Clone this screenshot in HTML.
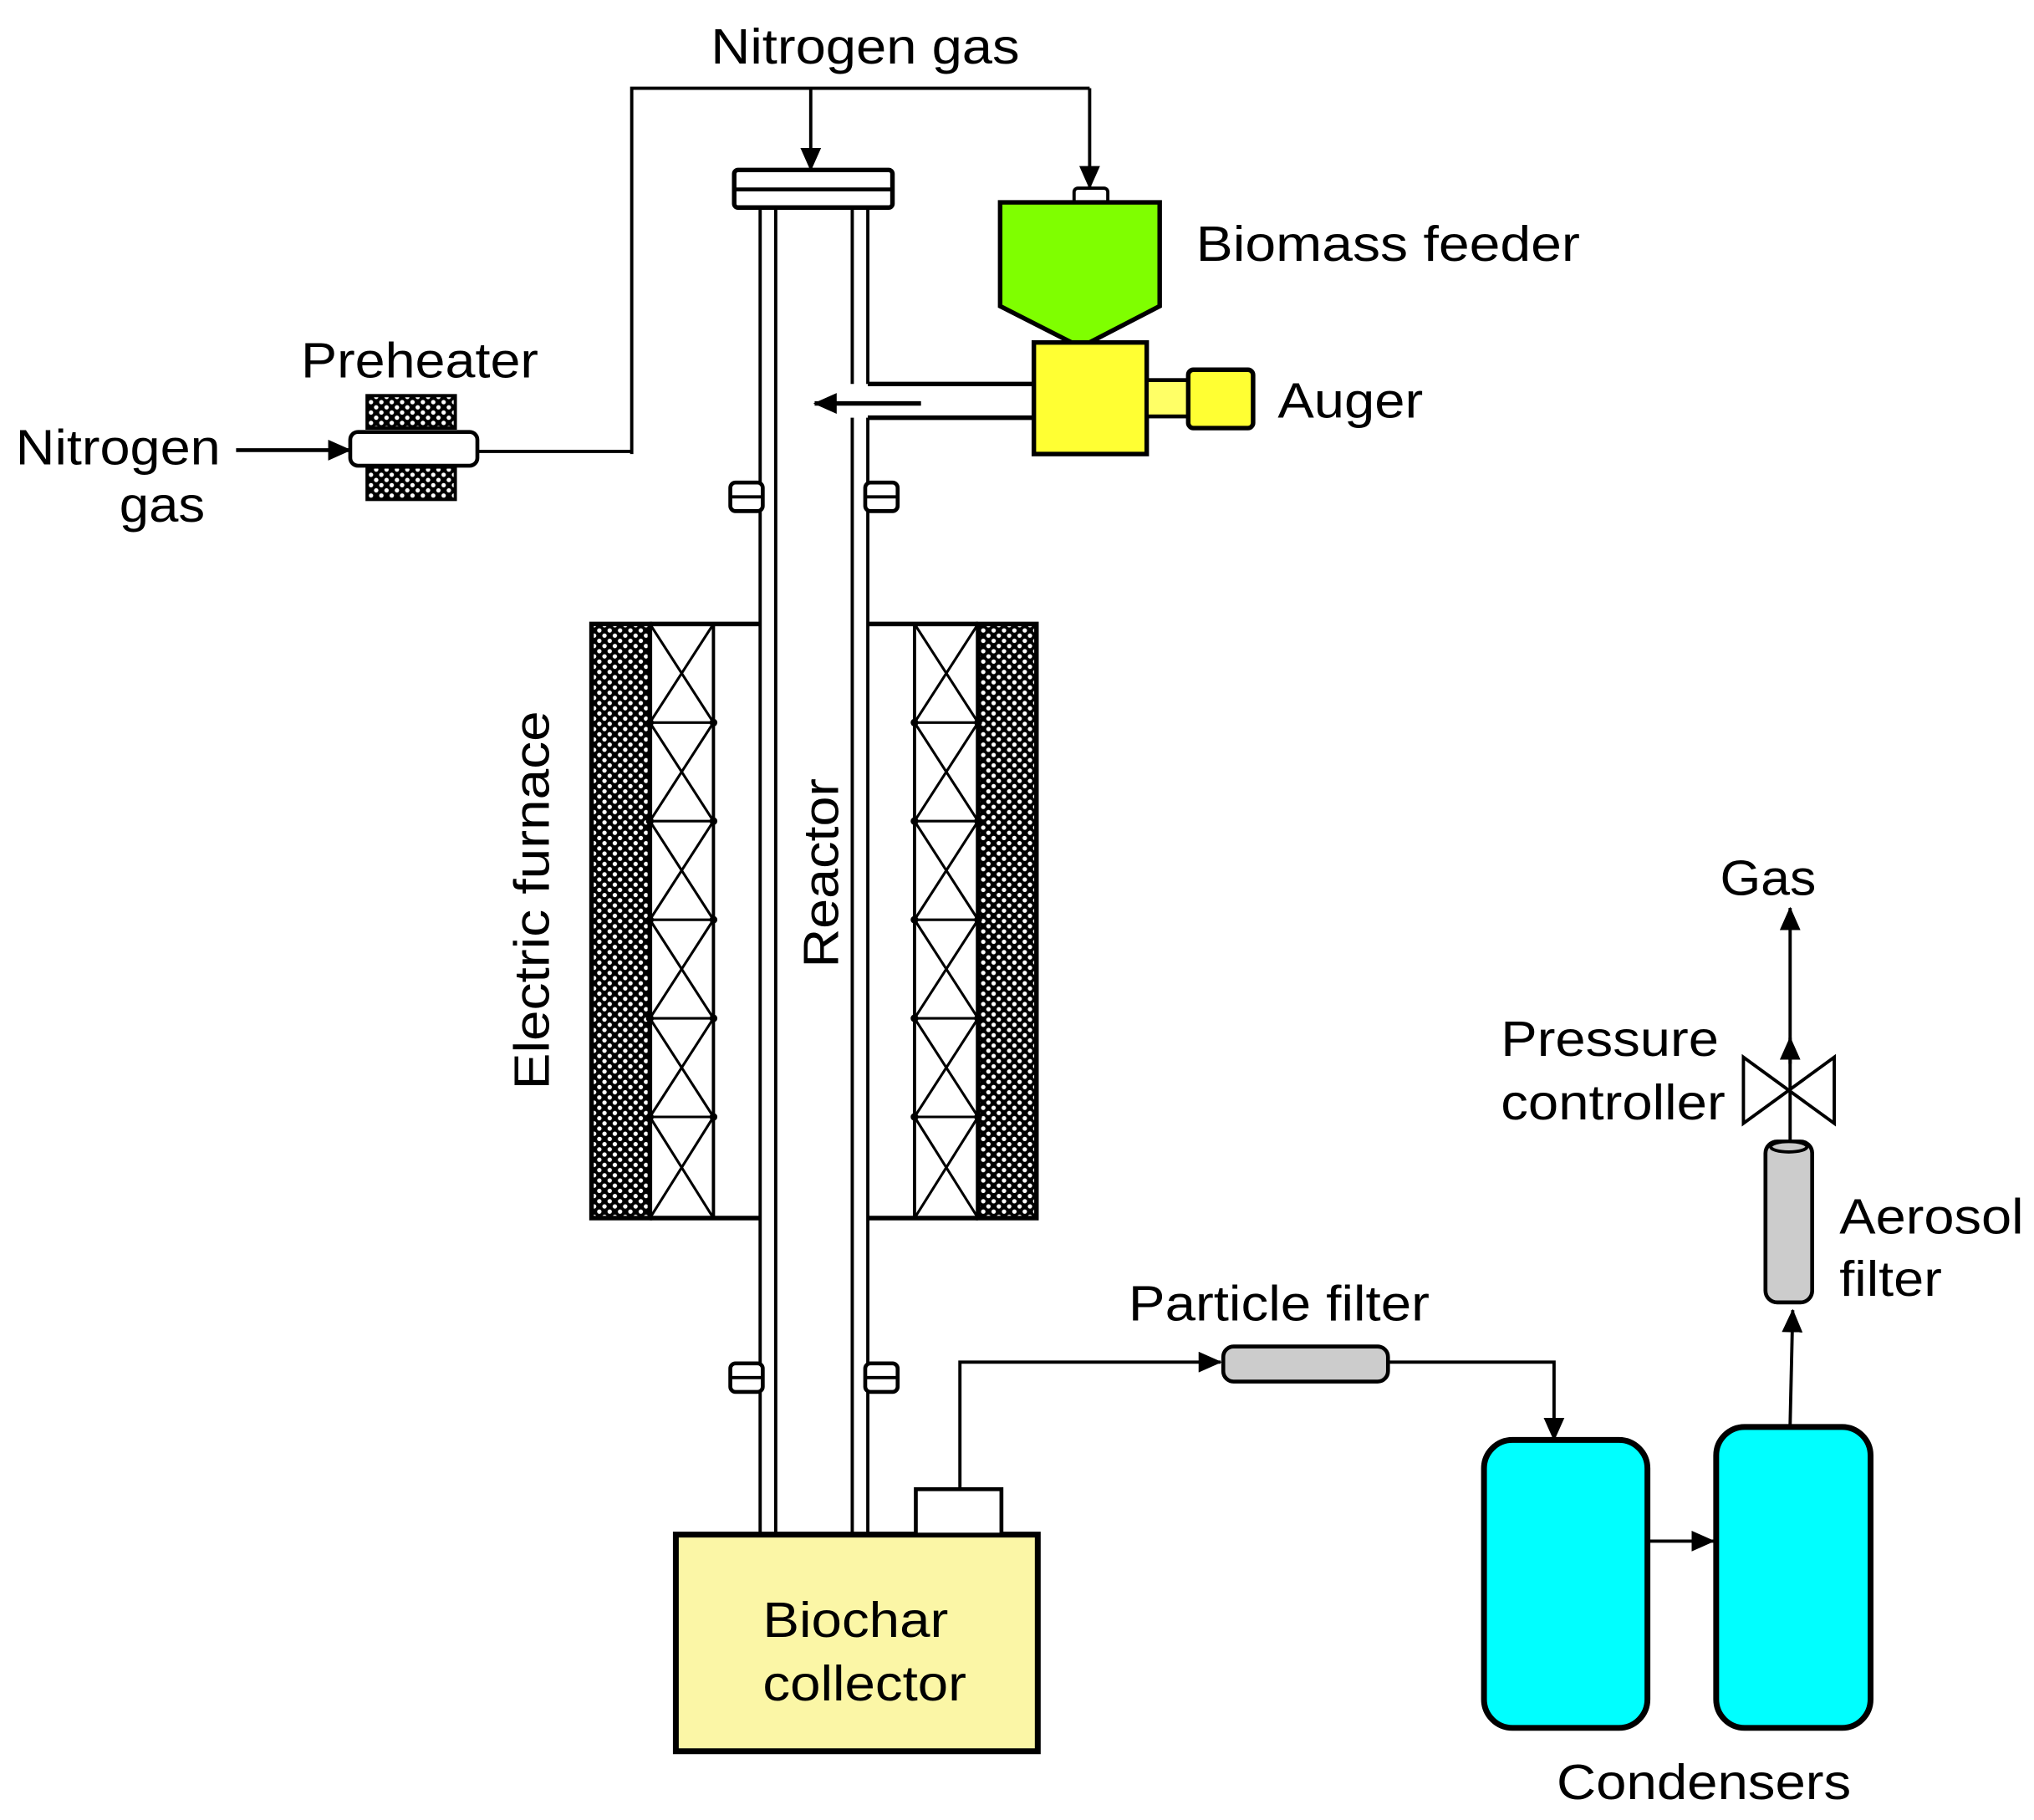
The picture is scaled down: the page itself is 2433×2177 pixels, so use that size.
<!DOCTYPE html>
<html><head><meta charset="utf-8"><style>html,body{margin:0;padding:0;background:#fff}svg{display:block}text{font-family:"Liberation Sans",sans-serif;fill:#000}</style></head>
<body>
<svg width="2433" height="2177" viewBox="0 0 1568 1403" xmlns="http://www.w3.org/2000/svg">
<defs>
<pattern id="dots" width="8" height="8" patternUnits="userSpaceOnUse">
<rect width="8" height="8" fill="#000"/><circle cx="2" cy="2" r="1.7" fill="#fff"/><circle cx="6" cy="6" r="1.7" fill="#fff"/>
</pattern>
<marker id="ab" markerWidth="18" markerHeight="16" refX="17" refY="8" orient="auto" markerUnits="userSpaceOnUse"><path d="M0,0 L18,8 L0,16 z" fill="#000"/></marker>
</defs>
<g stroke="#000" fill="none" stroke-width="2.5">
<polyline points="487,350 487,68 840,68" />
<line x1="625" y1="68" x2="625" y2="131" marker-end="url(#ab)"/>
<line x1="840" y1="68" x2="840" y2="145" marker-end="url(#ab)"/>
<line x1="365" y1="348" x2="487" y2="348"/>
<line x1="182" y1="347" x2="270" y2="347" stroke-width="3" marker-end="url(#ab)"/>
<rect x="283" y="305" width="68" height="25" fill="url(#dots)"/>
<rect x="283" y="360" width="68" height="25" fill="url(#dots)"/>
<rect x="270" y="333" width="98" height="26" rx="6" fill="#fff" stroke-width="3"/>
<rect x="566" y="131" width="122" height="29" rx="3" fill="#fff" stroke-width="3.5"/>
<line x1="566" y1="146" x2="688" y2="146" stroke-width="3"/>
<line x1="586" y1="160" x2="586" y2="1182"/><line x1="598" y1="160" x2="598" y2="1182"/>
<line x1="657" y1="160" x2="657" y2="296"/><line x1="669" y1="160" x2="669" y2="296"/>
<line x1="657" y1="322" x2="657" y2="1182"/><line x1="669" y1="322" x2="669" y2="1182"/>
<line x1="669" y1="296" x2="797" y2="296" stroke-width="3.5"/>
<line x1="669" y1="322" x2="797" y2="322" stroke-width="3.5"/>
<line x1="710" y1="311" x2="628" y2="311" stroke-width="3.5" marker-end="url(#ab)"/>
<rect x="563" y="372" width="25" height="22" rx="4" fill="#fff" stroke-width="3"/><line x1="563" y1="383" x2="588" y2="383"/>
<rect x="667" y="372" width="25" height="22" rx="4" fill="#fff" stroke-width="3"/><line x1="667" y1="383" x2="692" y2="383"/>
<rect x="563" y="1051" width="25" height="22" rx="4" fill="#fff" stroke-width="3"/><line x1="563" y1="1062" x2="588" y2="1062"/>
<rect x="667" y="1051" width="25" height="22" rx="4" fill="#fff" stroke-width="3"/><line x1="667" y1="1062" x2="692" y2="1062"/>
<rect x="828" y="145" width="26" height="12" rx="3" fill="#fff"/>
<path d="M771,156 L894,156 L894,236 L838,265 L828,265 L771,236 Z" fill="#7fff00" stroke-width="3.5"/>
<rect x="797" y="264" width="87" height="86" fill="#ffff33" stroke-width="3.5"/>
<rect x="884" y="293" width="32" height="28" fill="#ffff66" stroke-width="3"/>
<rect x="916" y="285" width="50" height="45" rx="4" fill="#ffff33" stroke-width="3.5"/>
<rect x="456" y="481" width="45" height="458" fill="url(#dots)" stroke-width="3.5"/>
<rect x="754" y="481" width="45" height="458" fill="url(#dots)" stroke-width="3.5"/>
<line x1="501" y1="481" x2="586" y2="481" stroke-width="3.5"/><line x1="501" y1="939" x2="586" y2="939" stroke-width="3.5"/>
<line x1="669" y1="481" x2="754" y2="481" stroke-width="3.5"/><line x1="669" y1="939" x2="754" y2="939" stroke-width="3.5"/>
<line x1="550" y1="481" x2="550" y2="939"/><line x1="705" y1="481" x2="705" y2="939"/>
<g stroke-width="2">
<path d="M501,481 L550,557 M550,481 L501,557 M501,557 L550,557 M501,557 L550,633 M550,557 L501,633 M501,633 L550,633 M501,633 L550,709 M550,633 L501,709 M501,709 L550,709 M501,709 L550,785 M550,709 L501,785 M501,785 L550,785 M501,785 L550,861 M550,785 L501,861 M501,861 L550,861 M501,861 L550,939 M550,861 L501,939"/>
<path d="M705,481 L754,557 M754,481 L705,557 M705,557 L754,557 M705,557 L754,633 M754,557 L705,633 M705,633 L754,633 M705,633 L754,709 M754,633 L705,709 M705,709 L754,709 M705,709 L754,785 M754,709 L705,785 M705,785 L754,785 M705,785 L754,861 M754,785 L705,861 M705,861 L754,861 M705,861 L754,939 M754,861 L705,939"/>
</g>
<g fill="#000" stroke="none">
<circle cx="501" cy="557" r="3"/><circle cx="550" cy="557" r="3"/><circle cx="501" cy="633" r="3"/><circle cx="550" cy="633" r="3"/><circle cx="501" cy="709" r="3"/><circle cx="550" cy="709" r="3"/><circle cx="501" cy="785" r="3"/><circle cx="550" cy="785" r="3"/><circle cx="501" cy="861" r="3"/><circle cx="550" cy="861" r="3"/>
<circle cx="705" cy="557" r="3"/><circle cx="754" cy="557" r="3"/><circle cx="705" cy="633" r="3"/><circle cx="754" cy="633" r="3"/><circle cx="705" cy="709" r="3"/><circle cx="754" cy="709" r="3"/><circle cx="705" cy="785" r="3"/><circle cx="754" cy="785" r="3"/><circle cx="705" cy="861" r="3"/><circle cx="754" cy="861" r="3"/>
</g>
<rect x="521" y="1183" width="279" height="167" fill="#fbf6a6" stroke-width="4.5"/>
<rect x="706" y="1148" width="66" height="35" fill="#fff" stroke-width="3"/>
<polyline points="740,1148 740,1050 941,1050" marker-end="url(#ab)"/>
<rect x="943" y="1038" width="127" height="27" rx="8" fill="#ccc" stroke-width="3"/>
<polyline points="1070,1050 1198,1050 1198,1110" marker-end="url(#ab)"/>
<rect x="1144" y="1110" width="126" height="222" rx="22" fill="#00ffff" stroke-width="4.5"/>
<rect x="1323" y="1100" width="119" height="232" rx="22" fill="#00ffff" stroke-width="4.5"/>
<line x1="1271" y1="1188" x2="1321" y2="1188" marker-end="url(#ab)"/>
<line x1="1380" y1="1098" x2="1382" y2="1010" marker-end="url(#ab)"/>
<rect x="1361" y="880" width="36" height="124" rx="9" fill="#ccc" stroke-width="3"/>
<ellipse cx="1379" cy="884" rx="14" ry="4" fill="#ccc"/>
<line x1="1380" y1="880" x2="1380" y2="700" marker-end="url(#ab)"/>
<line x1="1380" y1="820" x2="1380" y2="800" marker-end="url(#ab)"/>
<path d="M1344,815 L1414,866 L1414,815 L1344,866 Z" fill="#fff"/>
</g>
<g font-size="38" lengthAdjust="spacingAndGlyphs">
<text x="548" y="49" textLength="238" lengthAdjust="spacingAndGlyphs">Nitrogen gas</text>
<text x="922" y="201" textLength="296" lengthAdjust="spacingAndGlyphs">Biomass feeder</text>
<text x="985" y="322" textLength="112" lengthAdjust="spacingAndGlyphs">Auger</text>
<text x="232" y="291" textLength="183" lengthAdjust="spacingAndGlyphs">Preheater</text>
<text x="12" y="358" textLength="158" lengthAdjust="spacingAndGlyphs">Nitrogen</text>
<text x="92" y="402" textLength="66" lengthAdjust="spacingAndGlyphs">gas</text>
<text transform="translate(423,840) rotate(-90)" textLength="292" lengthAdjust="spacingAndGlyphs">Electric furnace</text>
<text transform="translate(646,746) rotate(-90)" textLength="146" lengthAdjust="spacingAndGlyphs">Reactor</text>
<text x="588" y="1262" textLength="143" lengthAdjust="spacingAndGlyphs">Biochar</text>
<text x="588" y="1311" textLength="157" lengthAdjust="spacingAndGlyphs">collector</text>
<text x="870" y="1018" textLength="232" lengthAdjust="spacingAndGlyphs">Particle filter</text>
<text x="1200" y="1387" textLength="227" lengthAdjust="spacingAndGlyphs">Condensers</text>
<text x="1326" y="690" textLength="74" lengthAdjust="spacingAndGlyphs">Gas</text>
<text x="1157" y="814" textLength="168" lengthAdjust="spacingAndGlyphs">Pressure</text>
<text x="1157" y="863" textLength="173" lengthAdjust="spacingAndGlyphs">controller</text>
<text x="1418" y="951" textLength="142" lengthAdjust="spacingAndGlyphs">Aerosol</text>
<text x="1418" y="999" textLength="79" lengthAdjust="spacingAndGlyphs">filter</text>
</g>
</svg>
</body></html>
